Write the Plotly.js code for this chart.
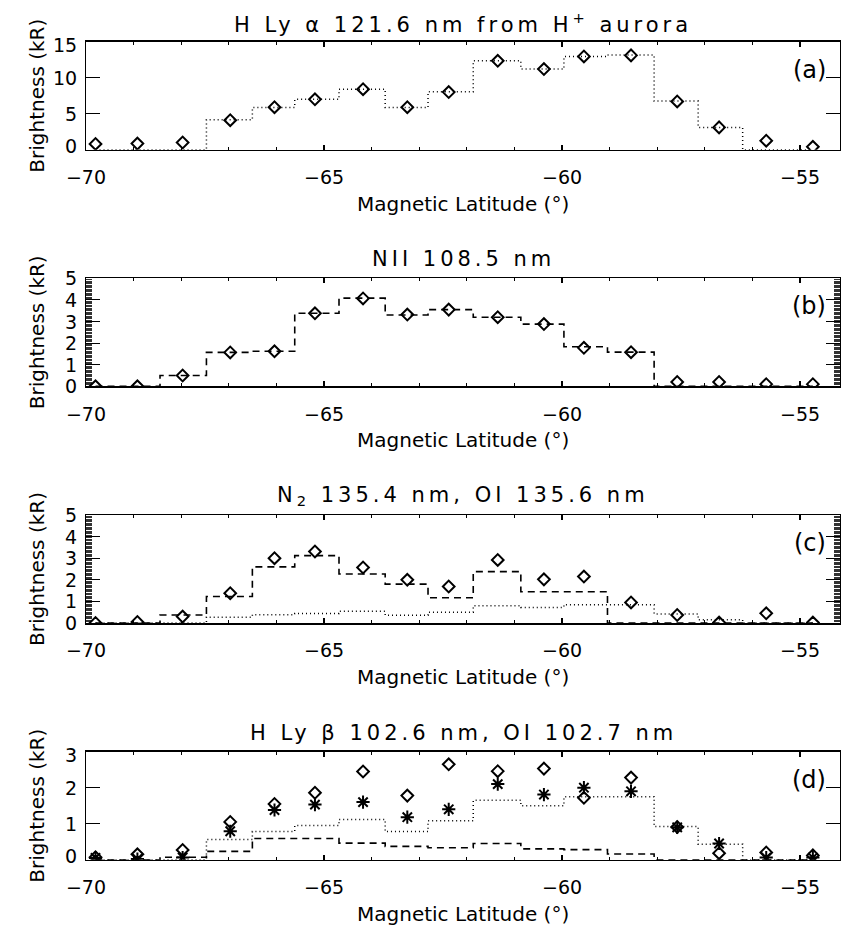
<!DOCTYPE html>
<html>
<head>
<meta charset="utf-8">
<script src="https://cdn.plot.ly/plotly-3.0.1.min.js"></script>
<style>
  html, body { margin: 0; padding: 0; background: #fff; overflow: hidden; }
  #chart { width: 841px; height: 928px; }
</style>
</head>
<body>
<div id="chart"></div>
<script>
// ---- data ----
const lat = [-69.80, -68.92, -67.97, -66.97, -66.04, -65.19, -64.18, -63.25, -62.38,
             -61.35, -60.38, -59.54, -58.55, -57.58, -56.70, -55.71, -54.73];

// (a) H Ly alpha from H+ aurora
const lyaObs   = [0.8, 0.85, 1.0, 4.1, 5.9, 7.0, 8.4, 5.9, 8.0, 12.35, 11.2, 12.95, 13.1, 6.7, 3.1, 1.25, 0.4];
const lyaModel = [0, 0, 0, 4.15, 5.85, 7.0, 8.4, 5.85, 8.05, 12.35, 11.2, 12.95, 13.15, 6.75, 3.1, 0, 0];

// (b) NII 108.5 nm
const niiObs   = [0.0, 0.0, 0.5, 1.57, 1.62, 3.38, 4.07, 3.32, 3.55, 3.2, 2.88, 1.78, 1.58, 0.2, 0.2, 0.1, 0.1];
const niiModel = [0, 0, 0.5, 1.57, 1.62, 3.38, 4.08, 3.3, 3.55, 3.2, 2.88, 1.83, 1.58, 0, 0, 0, 0];

// (c) N2 135.4 nm, OI 135.6 nm
const n2Obs    = [0.0, 0.05, 0.3, 1.38, 3.0, 3.31, 2.57, 2.0, 1.69, 2.92, 2.02, 2.15, 0.95, 0.37, 0.02, 0.45, 0.02];
const n2Dash   = [0, 0, 0.37, 1.23, 2.6, 3.12, 2.27, 1.8, 1.17, 2.38, 1.45, 1.45, 0, 0, 0, 0, 0];
const n2Dot    = [0, 0, 0, 0.27, 0.38, 0.44, 0.54, 0.36, 0.5, 0.8, 0.72, 0.85, 0.85, 0.42, 0.15, 0, 0];

// (d) H Ly beta 102.6 nm, OI 102.7 nm
const dDiamond = [0.07, 0.15, 0.27, 1.05, 1.55, 1.86, 2.45, 1.78, 2.65, 2.46, 2.53, 1.72, 2.28, 0.91, 0.18, 0.2, 0.12];
const dStar    = [0.05, 0.02, 0.06, 0.79, 1.38, 1.53, 1.6, 1.18, 1.4, 2.1, 1.81, 2.0, 1.9, 0.9, 0.45, 0.06, 0.06];
const dDot     = [0, 0, 0, 0.56, 0.78, 0.95, 1.12, 0.78, 1.08, 1.65, 1.5, 1.75, 1.75, 0.92, 0.43, 0, 0];
const dDash    = [0, 0, 0.07, 0.23, 0.59, 0.59, 0.46, 0.37, 0.33, 0.45, 0.3, 0.28, 0.16, 0, 0, 0, 0];

// ---- text ----
const panelTitles = [
  'H Ly α 121.6 nm from H<sup>+</sup> aurora',
  'NII 108.5 nm',
  'N<sub>2</sub> 135.4 nm, OI 135.6 nm',
  'H Ly β 102.6 nm, OI 102.7 nm'
];
const panelLetters = ['(a)', '(b)', '(c)', '(d)'];
const xTitle = 'Magnetic Latitude (°)';
const yTitle = 'Brightness (kR)';
const xTickVals = [-70, -65, -60, -55];
const xTickText = ['\u221270', '\u221265', '\u221260', '\u221255'];
const yTickVals = [[0, 5, 10, 15], [0, 1, 2, 3, 4, 5], [0, 1, 2, 3, 4, 5], [0, 1, 2, 3]];
const yTickText = [['0', '5', '10', '15'], ['0', '1', '2', '3', '4', '5'], ['0', '1', '2', '3', '4', '5'], ['0', '1', '2', '3']];
const yRanges = [[0, 15], [0, 5], [0, 5], [0, 3]];
const xRange = [-70, -54.16];

// ---- geometry (pixels) ----
const W = 841, H = 928;
const plotLeft = 86, plotRight = 840, plotH = 108;
const tops = [41.7, 278.3, 515, 751.7];
const edgeLabelShift = [3.5, 0, 0, 3.5];   // end labels nudged inside the axis where there is room
const FONT = 'DejaVu Sans, Verdana, sans-serif';

const traces = [];
function axName(i) { return i === 0 ? '' : String(i + 1); }
function stepTrace(y, dash, width, i) {
  return { x: lat, y: y, mode: 'lines', hoverinfo: 'skip', showlegend: false,
    line: { shape: 'hvh', dash: dash, width: width, color: '#000' },
    xaxis: 'x' + axName(i), yaxis: 'y' + axName(i) };
}
function markTrace(y, symbol, size, i) {
  return { x: lat, y: y, mode: 'markers', hoverinfo: 'skip', showlegend: false,
    marker: { symbol: symbol, size: size, color: '#000', line: { width: 2, color: '#000' } },
    xaxis: 'x' + axName(i), yaxis: 'y' + axName(i) };
}
const DOT = '1px,3px', DASH = '7px,5px';
traces.push(stepTrace(lyaModel, DOT, 1.5, 0));
traces.push(markTrace(lyaObs, 'diamond-open', 9, 0));
traces.push(stepTrace(niiModel, DASH, 1.6, 1));
traces.push(markTrace(niiObs, 'diamond-open', 9, 1));
traces.push(stepTrace(n2Dash, DASH, 1.6, 2));
traces.push(stepTrace(n2Dot, DOT, 1.5, 2));
traces.push(markTrace(n2Obs, 'diamond-open', 9, 2));
traces.push(stepTrace(dDot, DOT, 1.5, 3));
traces.push(stepTrace(dDash, DASH, 1.6, 3));
traces.push(markTrace(dDiamond, 'diamond-open', 9, 3));
traces.push(markTrace(dStar, 'asterisk-open', 11, 3));

const layout = {
  width: W, height: H,
  margin: { l: 0, r: 0, t: 0, b: 0 },
  paper_bgcolor: '#fff', plot_bgcolor: '#fff',
  showlegend: false,
  font: { family: FONT, color: '#000' },
  annotations: []
};

for (let i = 0; i < 4; i++) {
  const s = axName(i);
  const top = tops[i];
  const dense = (i === 1 || i === 2);
  layout['xaxis' + s] = {
    domain: [plotLeft / W, plotRight / W], anchor: 'y' + s, range: xRange,
    showline: true, linecolor: '#000', linewidth: 1.5, mirror: 'allticks',
    ticks: 'inside', ticklen: 5, tickwidth: 1.2, tickcolor: '#000',
    tickvals: xTickVals, ticktext: xTickText, ticklabelstandoff: 10,
    tickfont: { family: FONT, size: 19, color: '#000' },
    minor: { ticks: 'inside', dtick: 1, ticklen: 3, tickwidth: 1, tickcolor: '#000' },
    showgrid: false, zeroline: false, fixedrange: true
  };
  const ya = {
    domain: [1 - (top + plotH) / H, 1 - top / H], anchor: 'x' + s, range: yRanges[i],
    showline: true, linecolor: '#000', linewidth: 1.5, mirror: 'allticks',
    ticks: 'inside', ticklen: 14, tickwidth: 1.2, tickcolor: '#000',
    tickvals: yTickVals[i], showticklabels: false,
    showgrid: false, zeroline: false, fixedrange: true
  };
  if (dense) ya.minor = { ticks: 'inside', dtick: 0.0625, ticklen: 6, tickwidth: 0.8, tickcolor: '#000' };
  layout['yaxis' + s] = ya;

  // y tick labels, placed on the y axis scale
  const vals = yTickVals[i], rng = yRanges[i];
  for (let k = 0; k < vals.length; k++) {
    let shift = 0;
    if (vals[k] === rng[0]) shift = edgeLabelShift[i];
    if (vals[k] === rng[1]) shift = -edgeLabelShift[i];
    layout.annotations.push({
      text: yTickText[i][k], xref: 'paper', x: 79 / W, xanchor: 'right',
      yref: 'y' + s, y: vals[k], yanchor: 'middle', yshift: shift, showarrow: false,
      font: { family: FONT, size: 19, color: '#000' }
    });
  }

  layout.annotations.push({
    text: panelTitles[i], xref: 'x' + s + ' domain', x: 0.5, xanchor: 'center',
    yref: 'paper', y: 1 - (top - 19) / H, yanchor: 'middle', showarrow: false,
    font: { family: FONT, size: 21, color: '#000' }
  });
  layout.annotations.push({
    text: xTitle, xref: 'x' + s + ' domain', x: 0.5, xanchor: 'center',
    yref: 'paper', y: 1 - (top + plotH + 54) / H, yanchor: 'middle', showarrow: false,
    font: { family: FONT, size: 20, color: '#000' }
  });
  layout.annotations.push({
    text: yTitle, xref: 'paper', x: 37 / W, xanchor: 'center',
    yref: 'paper', y: 1 - (top + plotH / 2) / H, yanchor: 'middle', textangle: -90,
    showarrow: false, font: { family: FONT, size: 20, color: '#000' }
  });
  layout.annotations.push({
    text: panelLetters[i], xref: 'paper', x: 828 / W, xanchor: 'right',
    yref: 'paper', y: 1 - (top + 28) / H, yanchor: 'middle', showarrow: false,
    font: { family: FONT, size: 24, color: '#000' }
  });
}

Plotly.newPlot('chart', traces, layout, { staticPlot: true, displayModeBar: false }).then(function () {
  document.querySelectorAll('.annotation-text').forEach(function (t) {
    const txt = t.textContent || '';
    if (txt.indexOf(' nm') >= 0) t.style.letterSpacing = '4px';
  });
});
</script>
</body>
</html>
